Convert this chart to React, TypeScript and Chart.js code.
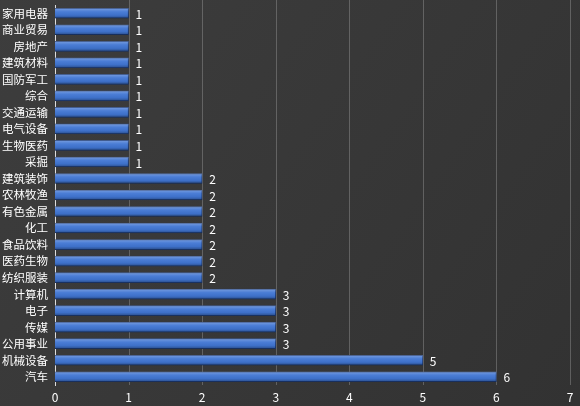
import React, { useEffect, useRef } from "react";
import { Chart, registerables } from "chart.js";

Chart.register(...registerables);

const categories = [
  "家用电器", "商业贸易", "房地产", "建筑材料", "国防军工", "综合", "交通运输", "电气设备",
  "生物医药", "采掘", "建筑装饰", "农林牧渔", "有色金属", "化工", "食品饮料", "医药生物",
  "纺织服装", "计算机", "电子", "传媒", "公用事业", "机械设备", "汽车",
];
const values = [1, 1, 1, 1, 1, 1, 1, 1, 1, 1, 2, 2, 2, 2, 2, 2, 2, 3, 3, 3, 3, 5, 6];
const xMin = 0;
const xMax = 7;
const xStep = 1;

const FONT = "'Noto Sans CJK SC', 'Noto Sans', sans-serif";

const bgPlugin = {
  id: "bg",
  beforeDraw(chart: any) {
    const { ctx, width, height } = chart;
    ctx.save();
    const g = ctx.createLinearGradient(0, 0, width, height);
    g.addColorStop(0, "#3d3d3d");
    g.addColorStop(1, "#323232");
    ctx.fillStyle = g;
    ctx.fillRect(0, 0, width, height);
    ctx.restore();
  },
  beforeDatasetsDraw(chart: any) {
    const { ctx, chartArea } = chart;
    const xs = chart.scales.x;
    ctx.save();
    ctx.strokeStyle = "rgba(190,190,190,0.32)";
    ctx.lineWidth = 1;
    xs.ticks.forEach((t: any) => {
      if (t.value === xMin) return;
      const x = Math.round(xs.getPixelForValue(t.value)) + 0.5;
      ctx.beginPath();
      ctx.moveTo(x, 0);
      ctx.lineTo(x, chartArea.bottom);
      ctx.stroke();
    });
    ctx.restore();
  },
};

const labelPlugin = {
  id: "vals",
  afterDatasetsDraw(chart: any) {
    const { ctx } = chart;
    const meta = chart.getDatasetMeta(0);
    ctx.save();
    meta.data.forEach((el: any) => {
      const top = el.y - el.height / 2;
      const g = ctx.createLinearGradient(0, top, 0, top + el.height);
      g.addColorStop(0, "rgba(255,255,255,0.28)");
      g.addColorStop(0.35, "rgba(255,255,255,0.05)");
      g.addColorStop(0.7, "rgba(0,0,0,0.05)");
      g.addColorStop(1, "rgba(0,0,0,0.35)");
      ctx.fillStyle = g;
      ctx.fillRect(el.base, top, el.x - el.base, el.height);
    });
    ctx.fillStyle = "#ffffff";
    ctx.font = `12px ${FONT}`;
    ctx.textAlign = "left";
    ctx.textBaseline = "middle";
    meta.data.forEach((el: any, i: number) => {
      ctx.fillText(String(values[i]), el.x + 7, el.y + 1);
    });
    ctx.restore();
  },
};

export default function App() {
  const ref = useRef<HTMLCanvasElement>(null);
  useEffect(() => {
    document.body.style.margin = "0";
    const chart = new Chart(ref.current!, {
      type: "bar",
      data: {
        labels: categories,
        datasets: [
          {
            data: values,
            backgroundColor: "#4176d3",
            borderColor: "#1f3e7a",
            borderWidth: 1,
            barThickness: 10,
          },
        ],
      },
      options: {
        indexAxis: "y",
        animation: false,
        responsive: false,
        devicePixelRatio: 1,
        layout: { padding: { top: 5, right: 10, left: 0, bottom: 0 } },
        plugins: { legend: { display: false }, tooltip: { enabled: false } },
        scales: {
          x: {
            min: xMin,
            max: xMax,
            ticks: { stepSize: xStep, color: "#ffffff", font: { size: 12, family: FONT }, padding: 5 },
            grid: { display: false, drawTicks: false },
            border: { display: false },
            afterFit(s: any) { s.height = 21; },
          },
          y: {
            ticks: { color: "#ffffff", font: { size: 11.5, family: FONT }, padding: 7, autoSkip: false },
            grid: { display: false, drawTicks: false },
            border: { display: true, color: "#dddddd", width: 1 },
            afterFit(s: any) { s.width = 55; s.paddingTop = 0; s.paddingBottom = 0; },
          },
        },
      },
      plugins: [bgPlugin, labelPlugin],
    });
    return () => chart.destroy();
  }, []);
  return (
    <div style={{ position: "absolute", left: 0, top: 0, width: 580, height: 406 }}>
      <canvas ref={ref} width={580} height={406} style={{ width: 580, height: 406 }} />
    </div>
  );
}
